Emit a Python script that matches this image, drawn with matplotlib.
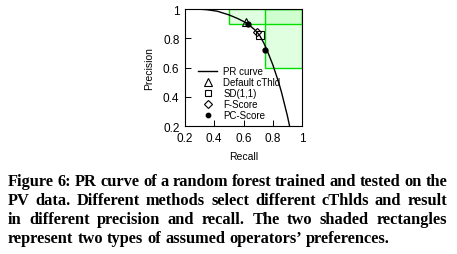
import matplotlib
matplotlib.use('Agg')
import matplotlib.pyplot as plt
from matplotlib.patches import Rectangle

# PR curve (recall, precision)
recall = [0.28, 0.35, 0.42, 0.50, 0.56, 0.60, 0.64, 0.68, 0.71, 0.74, 0.76, 0.78, 0.80, 0.82, 0.84, 0.86, 0.88, 0.90, 0.915]
precision = [1.00, 0.995, 0.985, 0.96, 0.935, 0.915, 0.89, 0.855, 0.82, 0.765, 0.72, 0.67, 0.62, 0.56, 0.50, 0.43, 0.35, 0.27, 0.20]

# selected operating points
default_pt = (0.62, 0.91)
sd_pt = (0.71, 0.82)
fscore_pt = (0.69, 0.84)
pc_recall = [0.63, 0.75]
pc_precision = [0.90, 0.72]

# operators' preference rectangles: (min recall, min precision)
prefs = [(0.5, 0.9), (0.75, 0.6)]

caption = ["Figure 6: PR curve of a random forest trained and tested on the",
           "PV data.  Different methods select different cThlds and result",
           "in different precision and recall.  The two shaded rectangles",
           "represent two types of assumed operators\u2019 preferences."]

plt.rcParams['font.family'] = ['Liberation Sans', 'DejaVu Sans']

fig = plt.figure(figsize=(4.57, 2.55), dpi=100)
ax = fig.add_axes([185 / 457, 1 - 127 / 255, 117 / 457, 117 / 255])

for r0, p0 in prefs:
    ax.add_patch(Rectangle((r0, p0), 1 - r0, 1 - p0, facecolor='#bbffbb', alpha=0.45,
                           edgecolor='none', zorder=1))
    ax.add_patch(Rectangle((r0, p0), 1 - r0, 1 - p0, facecolor='none',
                           edgecolor='#00e000', linewidth=1.0, zorder=2))

ax.plot(recall, precision, color='black', linewidth=1.0, label='PR curve', zorder=3)
ax.plot(*default_pt, linestyle='none', marker='^', markersize=6, markerfacecolor='none',
        markeredgecolor='black', markeredgewidth=0.8, label='Default cThld', zorder=4)
ax.plot(*sd_pt, linestyle='none', marker='s', markersize=5.5, markerfacecolor='none',
        markeredgecolor='black', markeredgewidth=0.8, label='SD(1,1)', zorder=4)
ax.plot(*fscore_pt, linestyle='none', marker='D', markersize=4, markerfacecolor='none',
        markeredgecolor='black', markeredgewidth=0.8, label='F-Score', zorder=4)
ax.plot(pc_recall, pc_precision, linestyle='none', marker='o', markersize=3.5,
        color='black', label='PC-Score', zorder=4)

ax.set_xlim(0.2, 1)
ax.set_ylim(0.2, 1)
ax.set_xticks([0.2, 0.4, 0.6, 0.8, 1])
ax.set_xticklabels(['0.2', '0.4', '0.6', '0.8', '1'])
ax.set_yticks([0.2, 0.4, 0.6, 0.8, 1])
ax.set_yticklabels(['0.2', '0.4', '0.6', '0.8', '1'])
ax.tick_params(direction='in', length=4, width=0.7, labelsize=8.5, pad=4)
for s in ax.spines.values():
    s.set_linewidth(0.8)
ax.set_xlabel('Recall', fontsize=7.5, labelpad=5)
ax.set_ylabel('Precision', fontsize=7.5, labelpad=6)

ax.legend(loc='lower left', bbox_to_anchor=(0.06, 0.0), frameon=False, fontsize=7,
          handlelength=2.0, handletextpad=0.6, labelspacing=0.1, borderpad=0.1,
          markerscale=0.9)

# justified caption
fig.canvas.draw()
renderer = fig.canvas.get_renderer()
left, right = 8 / 457, 447 / 457
fs = 11.8
baselines = [186, 205, 224, 243]
for i, line in enumerate(caption):
    y = 1 - baselines[i] / 255
    words = line.split()
    texts = [fig.text(0, y, w, fontsize=fs, fontweight='bold', family='Liberation Serif',
                      va='baseline', ha='left') for w in words]
    widths = [t.get_window_extent(renderer).width / fig.bbox.width for t in texts]
    if i == len(caption) - 1:
        gap = 0.25 * fs * 100 / 72 / 457
    else:
        gap = (right - left - sum(widths)) / (len(words) - 1)
    x = left
    for t, w in zip(texts, widths):
        t.set_x(x)
        x += w + gap

fig.savefig('out.png', dpi=100)
